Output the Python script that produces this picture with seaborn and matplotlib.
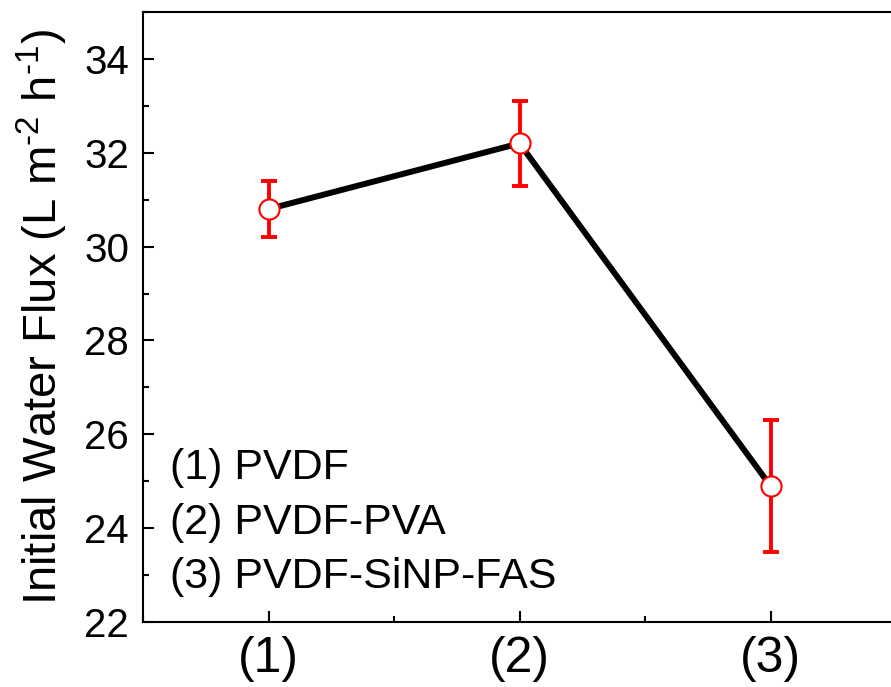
import matplotlib
matplotlib.use("Agg")
import matplotlib.pyplot as plt
import seaborn as sns
import pandas as pd
from matplotlib.ticker import MultipleLocator

categories = [1, 2, 3]
tick_labels = ["(1)", "(2)", "(3)"]
flux = [30.8, 32.2, 24.9]
flux_err = [0.6, 0.9, 1.4]
sample_names = ["(1) PVDF", "(2) PVDF-PVA", "(3) PVDF-SiNP-FAS"]

df = pd.DataFrame({"x": categories, "flux": flux, "err": flux_err})

sns.set_theme(style="ticks")
plt.rcParams["font.family"] = ["Liberation Sans", "DejaVu Sans"]
plt.rcParams["mathtext.fontset"] = "custom"
plt.rcParams["mathtext.rm"] = "Liberation Sans"
plt.rcParams["mathtext.it"] = "Liberation Sans"
plt.rcParams["text.color"] = "black"
plt.rcParams["axes.labelcolor"] = "black"
plt.rcParams["xtick.color"] = "black"
plt.rcParams["ytick.color"] = "black"

W, H = 891, 687
fig = plt.figure(figsize=(W / 100, H / 100), dpi=100)
left, right, top, bottom = 143, 896, 12, 622
ax = fig.add_axes([left / W, (H - bottom) / H, (right - left) / W, (bottom - top) / H])

sns.lineplot(data=df, x="x", y="flux", ax=ax, color="black", lw=4.3, zorder=2,
             solid_capstyle="round")
ax.errorbar(df["x"], df["flux"], yerr=df["err"], fmt="none", ecolor="#ff0000",
            elinewidth=2.8, capsize=6, capthick=2.8, zorder=3)
sns.scatterplot(data=df, x="x", y="flux", ax=ax, s=210, marker="o",
                facecolor="white", edgecolor="#ff0000", linewidth=1.5, zorder=4)

ax.set_xlim(0.5, 3.5)
ax.set_ylim(22, 35)
ax.set_xticks(categories)
ax.set_xticklabels(tick_labels, fontsize=36)
ax.xaxis.set_minor_locator(MultipleLocator(0.5))
ax.yaxis.set_major_locator(MultipleLocator(2))
ax.yaxis.set_minor_locator(MultipleLocator(1))
ax.tick_params(axis="y", labelsize=29, pad=10)
ax.tick_params(axis="x", pad=10)
ax.tick_params(which="major", direction="in", length=8, width=1.5)
ax.tick_params(which="minor", direction="in", length=4.5, width=1.5)
ax.set_xlabel("")
ax.set_ylabel(r"Initial Water Flux (L m$^{\text{-2}}$ h$^{\text{-1}}$)", fontsize=34, labelpad=10)

for s in ax.spines.values():
    s.set_linewidth(1.5)
    s.set_color("black")

ys = [0.252, 0.162, 0.074]
for name, yy in zip(sample_names, ys):
    ax.text(0.036, yy, name, transform=ax.transAxes, fontsize=31,
            va="center", ha="left", color="black")

fig.savefig("out.png", dpi=100)
